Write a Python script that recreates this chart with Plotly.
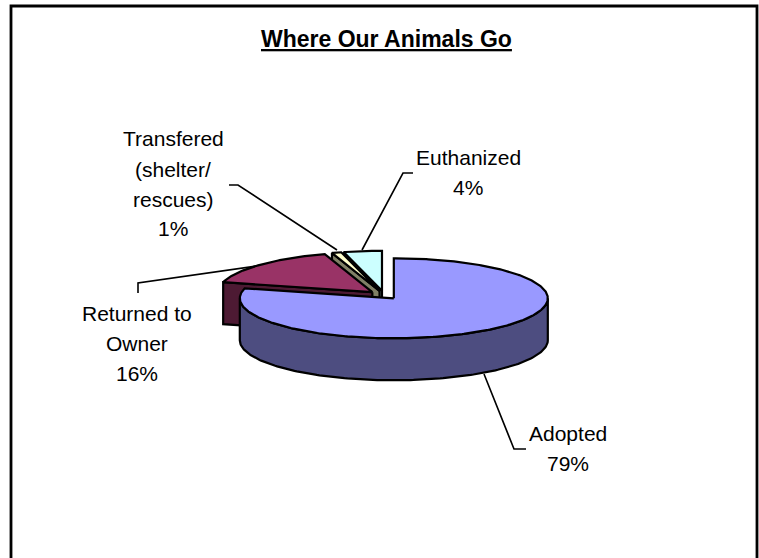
import numpy as np
import plotly.graph_objects as go

categories = ["Adopted", "Returned to Owner", "Transfered (shelter/ rescues)", "Euthanized"]
values = [79, 16, 1, 4]
top_colors = ["#9999FF", "#993366", "#FFFFCC", "#CCFFFF"]
side_colors = ["#4D4D80", "#4D1A33", "#808066", "#668080"]
title_text = "Where Our Animals Go"

# pie geometry, in axis units (one unit = one window pixel)
CX, CY, RX, RY, DEPTH, EXPLODE = 384, 295, 154, 40, 42, 16
LW = 2.2
FONT = "Liberation Sans, Arial, sans-serif"

fig = go.Figure()


def ring(ax, ay, t):
    return ax + RX * np.sin(t), ay - RY * np.cos(t)


def poly(x, y, color):
    fig.add_trace(go.Scatter(
        x=np.append(x, x[0]), y=np.append(y, y[0]), mode="lines", fill="toself",
        fillcolor=color, line=dict(color="black", width=LW),
        hoverinfo="skip", showlegend=False))


edges = np.cumsum([0] + values) / sum(values) * 2 * np.pi
slices = []
for i in range(len(values)):
    a0, a1 = edges[i], edges[i + 1]
    mid = (a0 + a1) / 2
    ax = CX + EXPLODE * np.sin(mid)
    ay = CY - EXPLODE * RY / RX * np.cos(mid)
    slices.append((i, a0, a1, ax, ay))

# painter's order: back slices first, the big front slice last
for i, a0, a1, ax, ay in [slices[3], slices[2], slices[1], slices[0]]:
    if i != 0:
        ex, ey = ring(ax, ay, a0)
        poly(np.array([ax, ex, ex, ax]),
             np.array([ay, ey, ey + DEPTH, ay + DEPTH]), side_colors[i])
    lo, hi = max(a0, np.pi / 2), min(a1, 3 * np.pi / 2)
    if hi > lo:
        t = np.linspace(lo, hi, 160)
        wx, wy = ring(ax, ay, t)
        poly(np.concatenate([wx, wx[::-1]]),
             np.concatenate([wy, wy[::-1] + DEPTH]), side_colors[i])
    t = np.linspace(a0, a1, max(8, int((a1 - a0) * 80)))
    tx, ty = ring(ax, ay, t)
    poly(np.concatenate([[ax], tx]), np.concatenate([[ay], ty]), top_colors[i])

# leader lines
leaders = [
    ([526, 514, 484], [449, 449, 374]),
    ([138, 138, 257], [293, 283, 266]),
    ([229, 238, 337], [185, 185, 250]),
    ([413, 403, 362], [173, 173, 250]),
]
for lx, ly in leaders:
    fig.add_trace(go.Scatter(x=lx, y=ly, mode="lines", line=dict(color="black", width=1.6),
                             hoverinfo="skip", showlegend=False))

# data labels, one annotation per line for the wide line pitch
labels = [
    (568, [433, 463], ["Adopted", "79%"]),
    (137, [313, 343, 373], ["Returned to", "Owner", "16%"]),
    (173, [138, 169, 199, 228], ["Transfered", "(shelter/", "rescues)", "1%"]),
    (468, [157, 187], ["Euthanized", "4%"]),
]
ann = []
for x, ys, lines in labels:
    for y, s in zip(ys, lines):
        ann.append(dict(x=x, y=y, text=s, showarrow=False, xref="x", yref="y",
                        xanchor="center", yanchor="middle",
                        font=dict(family=FONT, size=21, color="black")))
ann.append(dict(x=386, y=39, text=f"<b><u>{title_text}</u></b>", showarrow=False,
                xref="x", yref="y", xanchor="center", yanchor="middle",
                font=dict(family=FONT, size=23, color="black")))

fig.update_layout(
    width=759, height=558, autosize=False,
    margin=dict(l=0, r=0, t=0, b=0),
    paper_bgcolor="white", plot_bgcolor="white",
    xaxis=dict(range=[0, 759], visible=False, fixedrange=True),
    yaxis=dict(range=[558, 0], visible=False, fixedrange=True),
    annotations=ann,
    shapes=[dict(type="rect", xref="x", yref="y", x0=11, y0=6, x1=757, y1=575,
                 line=dict(color="black", width=2.8), layer="below")],
)
fig.write_html("out.html", config=dict(displayModeBar=False),
               post_script="document.body.style.margin='0';")
